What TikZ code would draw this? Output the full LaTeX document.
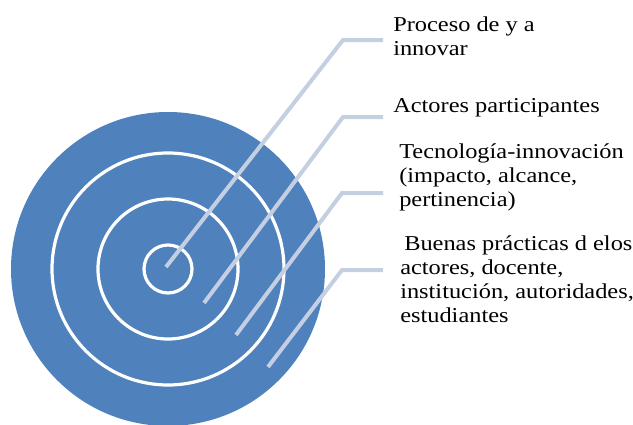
\documentclass[tikz,border=0pt]{standalone}
\usepackage{fontspec}
\setmainfont{Liberation Serif}[FakeStretch=1.15]
\usepackage{tikz}

\definecolor{ringblue}{HTML}{4F81BD}
\definecolor{leadgray}{HTML}{C5CFE2}

\begin{document}
\begin{tikzpicture}[x=0.75pt, y=-0.75pt,
        ring/.style={draw=white, line width=2.4pt},
        lead/.style={draw=leadgray, line width=3pt},
        label/.style={anchor=base west, inner sep=0pt, align=left, font=\fontsize{15.9}{18}\selectfont}]
        \useasboundingbox (0, 0) rectangle (633, 425);
        % target
        \fill[ringblue] (168, 269) circle[radius=157];
        \draw[ring] (168, 269) circle[radius=116];
        \draw[ring] (168, 269) circle[radius=70];
        \draw[ring] (168, 269) circle[radius=24];
        % labels (anchored on the baseline of the last line)
        \path (393, 55) node[label](proceso) {Proceso de y a\\innovar}
              (393, 112) node[label](actores) {Actores participantes}
              (399, 206) node[label](tecno) {Tecnología-innovación\\(impacto, alcance,\\pertinencia)}
              (400, 322) node[label](buenas) {\hspace{3pt}Buenas prácticas d elos\\actores, docente,\\institución, autoridades,\\estudiantes};
        % leader lines
        \path (166, 267) coordinate(a1) (343, 40) coordinate(b1) (383, 40) coordinate(c1)
              (204, 303) coordinate(a2) (343, 117) coordinate(b2) (383, 117) coordinate(c2)
              (236, 335) coordinate(a3) (342, 193) coordinate(b3) (383, 193) coordinate(c3)
              (268, 367) coordinate(a4) (342, 270) coordinate(b4) (383, 270) coordinate(c4);
        \draw[lead] (a1) -- (b1) -- (c1);
        \draw[lead] (a2) -- (b2) -- (c2);
        \draw[lead] (a3) -- (b3) -- (c3);
        \draw[lead] (a4) -- (b4) -- (c4);
    \end{tikzpicture}
\end{document}
